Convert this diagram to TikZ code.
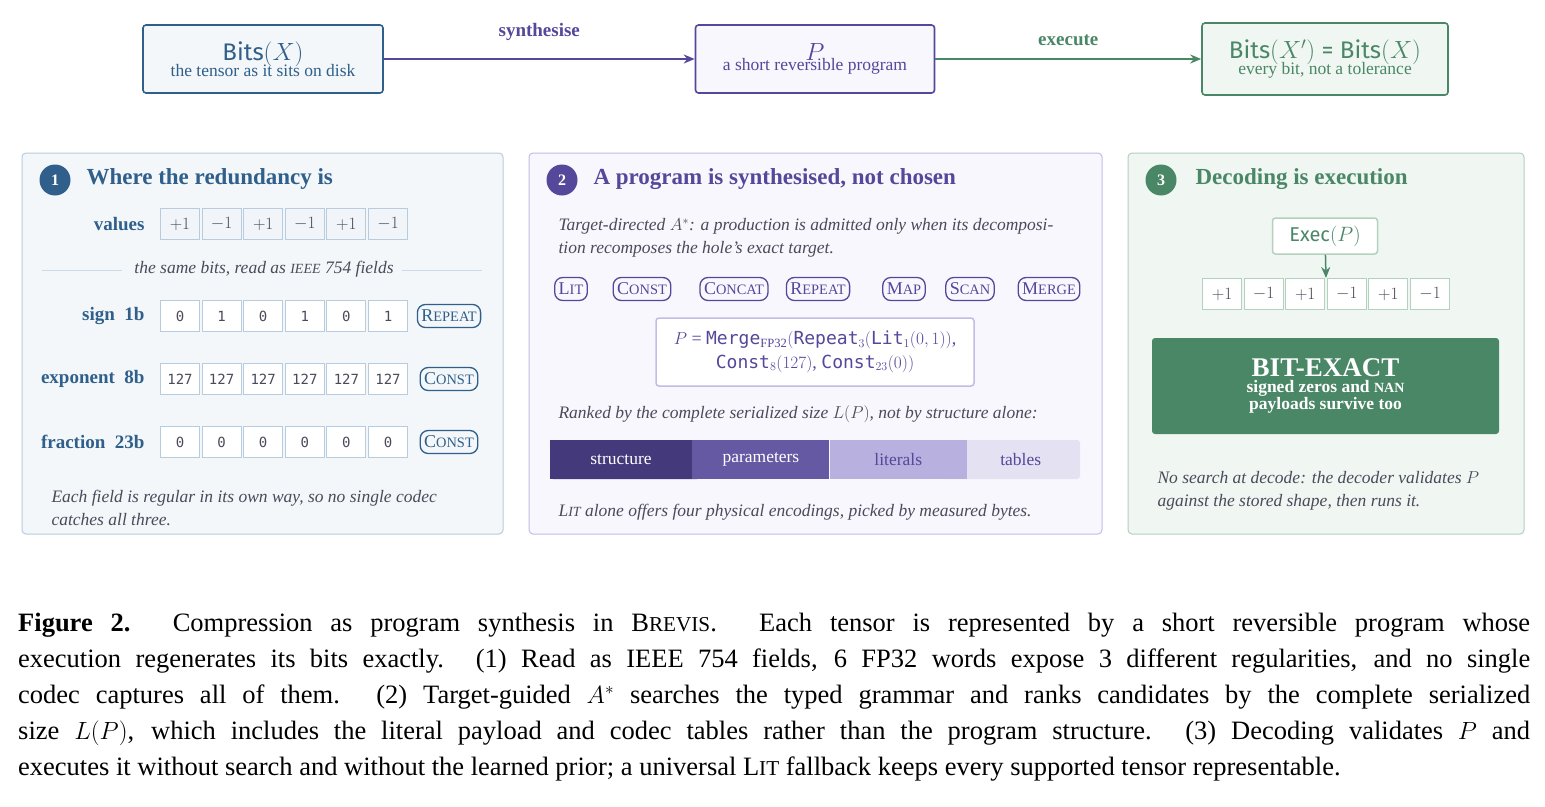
\documentclass[tikz,border=0pt]{standalone}
\usepackage{fontspec}
\setmainfont{Liberation Serif}
\setsansfont{Fira Sans}
\setmonofont{DejaVu Sans Mono}
\usetikzlibrary{arrows.meta, positioning, calc}
\definecolor{blueC}{HTML}{2F5F8A}
\definecolor{blueF}{HTML}{F3F7FA}
\definecolor{blueL}{HTML}{B7CCDF}
\definecolor{purpC}{HTML}{55479A}
\definecolor{purpF}{HTML}{F8F7FD}
\definecolor{purpL}{HTML}{C3BCE5}
\definecolor{greenC}{HTML}{4A8766}
\definecolor{greenF}{HTML}{F0F6F2}
\definecolor{greenL}{HTML}{B4D1BF}
\definecolor{textG}{HTML}{4A4A5A}
\newcommand\kw[2]{#1\scalebox{0.8}{\MakeUppercase{#2}}}
\newcommand\fsz[1]{\fontsize{#1}{\the\dimexpr #1pt*13/10\relax}\selectfont}

\begin{document}
\begin{tikzpicture}[x=1pt,y=-1pt,>={Stealth[length=11pt,width=9pt]}]
    \tikzstyle{topbox}=[draw, line width=1.6pt, rounded corners=3pt, minimum height=68pt, align=center, inner sep=2pt]
    \tikzstyle{panel}=[draw, line width=1pt, rounded corners=4pt]
    \tikzstyle{badge}=[circle, minimum size=31pt, inner sep=0pt, text=white, font=\fsz{16}\bfseries]
    \tikzstyle{ptitle}=[anchor=west, font=\fsz{23}\bfseries]
    \tikzstyle{cell}=[draw=blueL, line width=1pt, minimum width=39pt, minimum height=31pt, inner sep=0pt, font=\fsz{16}]
    \tikzstyle{tag}=[draw, line width=1.3pt, rounded corners=8pt, minimum height=23pt, inner sep=4pt, font=\fsz{18}]
    \tikzstyle{note}=[anchor=west, text=textG, font=\fsz{17.5}\itshape, align=left]
    \tikzstyle{rowlab}=[anchor=east, text=blueC, font=\fsz{19}\bfseries]
    \tikzstyle{seg}=[minimum height=39pt, inner sep=0pt, font=\fsz{17.5}]

    \useasboundingbox[fill=white] (0,0) rectangle (1545,806);

    % top row
    \node[topbox, draw=blueC, fill=blueF, minimum width=240pt] (bits) at (263,59)
        {{\fsz{24}\sffamily\color{blueC}Bits$(X)$}\\[-3pt]{\fsz{17.5}\color{blueC}the tensor as it sits on disk}};
    \node[topbox, draw=purpC, fill=purpF, minimum width=239pt] (prog) at (815,59)
        {{\fsz{24}\color{purpC}$P$}\\[-3pt]{\fsz{17.5}\color{purpC}a short reversible program}};
    \node[topbox, draw=greenC, fill=greenF, minimum width=246pt, minimum height=72pt] (bitsx) at (1325,59)
        {{\fsz{24}\sffamily\color{greenC}Bits$(X')$ = Bits$(X)$}\\[-3pt]{\fsz{17.5}\color{greenC}every bit, not a tolerance}};
    \draw[->, purpC, line width=2.2pt] (bits) -- node[above=14pt, font=\fsz{19}\bfseries] {synthesise} (prog);
    \draw[->, greenC, line width=2.2pt] (prog) -- node[above=9pt, font=\fsz{19}\bfseries] {execute} (bitsx);

    % panel 1
    \draw[panel, draw=blueL, fill=blueF] (22,153) rectangle (503,534);
    \node[badge, fill=blueC] (b1) at (55,180) {1};
    \node[ptitle, text=blueC] (t1) at (83,179) {Where the redundancy is};
    \node[rowlab] (lval) at (148,224) {values};
    \foreach \v [count=\i] in {+1,-1,+1,-1,+1,-1}
        \node[cell, fill=blueF!60!blueL!40, text=textG] (v-\i) at ({180+(\i-1)*41.6},224) {$\v$};
    \node[text=textG, font=\fsz{17.5}\itshape] (same) at (264,269) {the same bits, read as \scalebox{0.8}{IEEE} 754 fields};
    \draw[blueL!70] (42,270) -- (122,270);
    \draw[blueL!70] (402,270) -- (482,270);
    \foreach \lab/\y/\bits/\tg in {sign\enspace 1b/316/{0,1,0,1,0,1}/{\kw{R}{epeat}},
                                   exponent\enspace 8b/379/{127,127,127,127,127,127}/{\kw{C}{onst}},
                                   fraction\enspace 23b/442/{0,0,0,0,0,0}/{\kw{C}{onst}}}{
        \node[rowlab] at (148,\y) {\lab};
        \foreach \b [count=\i] in \bits
            \node[cell, fill=white, text=textG, font=\fsz{14}\ttfamily] at ({180+(\i-1)*41.6},\y) {\b};
        \node[tag, draw=blueC, text=blueC] at (449,\y) {\tg};
    }
    \node[note] (n1) at (48,508) {Each field is regular in its own way, so no single codec\\catches all three.};

    % panel 2
    \draw[panel, draw=purpL, fill=purpF] (529,153) rectangle (1102,534);
    \node[badge, fill=purpC] (b2) at (562,180) {2};
    \node[ptitle, text=purpC] (t2) at (590,179) {A program is synthesised, not chosen};
    \node[note, text width=535pt, align=justify] (n2) at (555,238)
        {Target-directed $A^*$: a production is admitted only when its decomposi-\\tion recomposes the hole's exact target.};
    \foreach \nm/\x [count=\i] in {{\kw{L}{it}}/571,{\kw{C}{onst}}/642,{\kw{C}{oncat}}/734,{\kw{R}{epeat}}/818,{\kw{M}{ap}}/904,{\kw{S}{can}}/970,{\kw{M}{erge}}/1049}
        \node[tag, draw=purpC, text=purpC] (g-\i) at (\x,289) {\nm};
    \node[draw=purpL, line width=1.5pt, fill=white, rounded corners=3pt, minimum width=318pt, minimum height=68pt,
          align=center, text=purpC, font=\fsz{18}] (form) at (815,352)
        {$P$ = \texttt{Merge}$_{\scalebox{0.7}{FP32}}\bigl($\texttt{Repeat}$_3($\texttt{Lit}$_1(0,1))$,\\
         \texttt{Const}$_8(127)$, \texttt{Const}$_{23}(0)\bigr)$};
    \node[note] (rank) at (555,414) {Ranked by the complete serialized size $L(P)$, not by structure alone:};
    \fill[purpC!80!black, rounded corners=3pt] (550,440) rectangle (700,479);
    \fill[purpL!45!white, rounded corners=3pt] (940,440) rectangle (1080,479);
    \node[seg, minimum width=142pt, text=white, fill=purpC!80!black] (s1) at (621,459.5) {structure};
    \node[seg, minimum width=137pt, text=white, fill=purpC!90!white, right=0pt of s1] (s2) {parameters};
    \node[seg, minimum width=137pt, text=purpC, fill=purpL!90!purpC, right=0pt of s2] (s3) {literals};
    \node[seg, minimum width=107pt, text=purpC, fill=purpL!45!white, right=0pt of s3] (s4) {tables};
    \node[note] (n3) at (555,512) {\kw{L}{it} alone offers four physical encodings, picked by measured bytes.};

    % panel 3
    \draw[panel, draw=greenL, fill=greenF] (1128,153) rectangle (1524,534);
    \node[badge, fill=greenC] (b3) at (1161,180) {3};
    \node[ptitle, text=greenC] (t3) at (1192,179) {Decoding is execution};
    \node[draw=greenL, line width=1.5pt, fill=white, rounded corners=3pt, minimum width=105pt, minimum height=36pt,
          text=greenC, font=\fsz{20}\sffamily] (exec) at (1325,236) {Exec$(P)$};
    \foreach \v [count=\i] in {+1,-1,+1,-1,+1,-1}
        \node[cell, draw=greenL, fill=white, text=textG] (w-\i) at ({1222+(\i-1)*41.6},294) {$\v$};
    \coordinate (mid) at ($(w-3.north east)!0.5!(w-4.north west)$);
    \draw[->, greenC, line width=1.5pt] (exec) -- (mid);
    \node[fill=greenC, rounded corners=3pt, minimum width=347pt, minimum height=96pt, align=center, text=white] (exact) at (1325.5,386)
        {{\fsz{27}\bfseries BIT-EXACT}\\[2pt]{\fsz{17.5}\bfseries signed zeros and \scalebox{0.8}{NAN}}\\{\fsz{17.5}\bfseries payloads survive too}};
    \node[note] (n4) at (1154,491) {No search at decode: the decoder validates $P$\\against the stored shape, then runs it.};

    % caption
    \node[anchor=north west, text width=1512pt, align=justify, font=\fontsize{26.5}{36}\selectfont, inner sep=0pt] (cap) at (18,613)
        {\textbf{Figure 2.} Compression as program synthesis in \kw{B}{revis}. Each tensor is represented by a short reversible program whose\linebreak
        execution regenerates its bits exactly. (1) Read as IEEE 754 fields, 6 FP32 words expose 3 different regularities, and no single\linebreak
        codec captures all of them. (2) Target-guided $A^*$ searches the typed grammar and ranks candidates by the complete serialized\linebreak
        size $L(P)$, which includes the literal payload and codec tables rather than the program structure. (3) Decoding validates $P$ and\linebreak
        executes it without search and without the learned prior; a universal \kw{L}{it} fallback keeps every supported tensor representable.};
\end{tikzpicture}
\end{document}
